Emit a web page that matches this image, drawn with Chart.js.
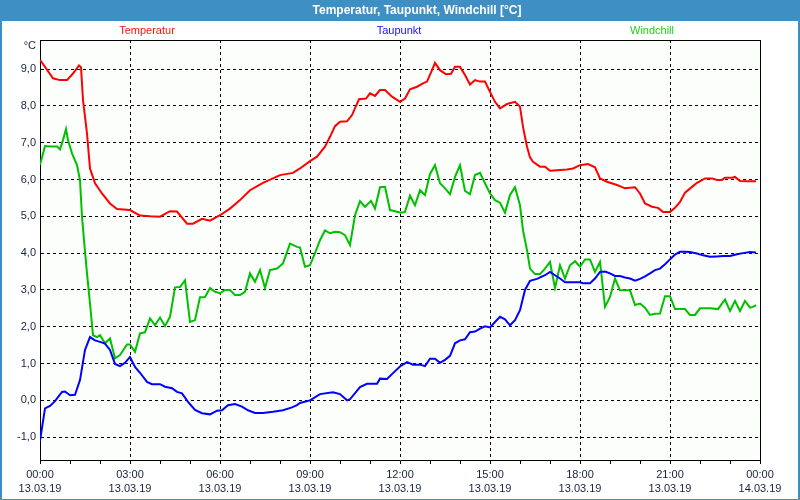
<!DOCTYPE html>
<html>
<head>
<meta charset="utf-8">
<script src="https://cdn.jsdelivr.net/npm/chart.js@4/dist/chart.umd.min.js"></script>
<style>
html,body{margin:0;padding:0;background:#fff;}
#wrap{width:800px;height:500px;position:relative;}
</style>
</head>
<body>
<div id="wrap"><canvas id="c" width="800" height="500"></canvas></div>
<script>
// ---- Data (time in minutes since 13.03.19 00:00) ----
const titleText = 'Temperatur, Taupunkt, Windchill [°C]';
const seriesNames = ['Temperatur', 'Taupunkt', 'Windchill'];
const unitLabel = '°C';

const timeLabels = ['00:00','03:00','06:00','09:00','12:00','15:00','18:00','21:00','00:00'];
const dateLabels = ['13.03.19','13.03.19','13.03.19','13.03.19','13.03.19','13.03.19','13.03.19','13.03.19','14.03.19'];
const yTickValues = [-1,0,1,2,3,4,5,6,7,8,9];

const tempTimes = [0,26,40,54,66,78,82,86,94,100,110,124,140,154,180,200,220,240,260,274,294,306,324,340,360,380,400,420,446,480,506,520,540,554,570,580,590,600,614,624,638,652,660,670,680,690,704,720,730,740,754,766,774,784,790,800,812,822,830,840,850,860,870,880,890,900,910,920,934,950,960,966,974,980,986,1000,1010,1020,1034,1054,1066,1080,1096,1110,1120,1134,1154,1170,1190,1200,1210,1224,1236,1246,1260,1270,1280,1290,1304,1314,1330,1344,1354,1364,1370,1384,1390,1400,1414,1432];
const tempValues = [9.25,8.75,8.7,8.7,8.88,9.1,9.05,8.16,7.25,6.3,5.9,5.62,5.35,5.2,5.17,5.02,5.0,4.99,5.14,5.13,4.8,4.8,4.93,4.88,5.03,5.21,5.44,5.71,5.91,6.12,6.18,6.3,6.5,6.62,6.89,7.16,7.45,7.57,7.58,7.75,8.18,8.2,8.34,8.27,8.43,8.43,8.25,8.11,8.2,8.45,8.52,8.61,8.66,8.97,9.17,8.97,8.86,8.87,9.06,9.06,8.84,8.58,8.7,8.66,8.66,8.38,8.11,7.93,8.05,8.11,7.98,7.43,6.89,6.6,6.48,6.35,6.35,6.24,6.25,6.27,6.3,6.39,6.42,6.33,6.03,5.94,5.85,5.76,5.79,5.62,5.35,5.26,5.23,5.12,5.12,5.23,5.39,5.64,5.8,5.91,6.03,6.03,5.99,5.99,6.05,6.05,6.07,5.96,5.95,5.95];

const dewTimes = [0,10,20,30,44,50,60,70,80,90,100,110,120,130,140,150,160,170,180,190,200,214,224,240,250,264,274,284,296,310,324,340,354,364,376,390,404,416,430,446,466,486,504,514,520,540,560,586,600,614,620,640,654,674,680,694,706,720,734,746,760,770,780,790,800,810,820,830,840,850,860,870,880,890,900,910,920,930,940,950,960,970,980,994,1010,1020,1030,1040,1050,1066,1080,1086,1100,1110,1120,1130,1140,1150,1160,1170,1180,1190,1200,1210,1220,1230,1240,1250,1260,1270,1280,1290,1300,1314,1326,1340,1354,1366,1380,1394,1406,1420,1432];
const dewValues = [-1.1,-0.22,-0.15,-0.02,0.23,0.24,0.14,0.15,0.55,1.37,1.72,1.63,1.59,1.54,1.37,0.99,0.93,1.02,1.18,0.91,0.75,0.5,0.44,0.44,0.37,0.33,0.23,0.19,-0.04,-0.26,-0.35,-0.38,-0.28,-0.27,-0.13,-0.1,-0.17,-0.27,-0.34,-0.34,-0.31,-0.27,-0.19,-0.13,-0.07,0.0,0.17,0.22,0.17,0.0,0.03,0.36,0.45,0.45,0.59,0.58,0.74,0.92,1.04,0.97,0.97,0.93,1.13,1.13,1.02,1.1,1.21,1.55,1.63,1.66,1.85,1.87,1.95,2.01,1.98,2.13,2.27,2.2,2.04,2.18,2.45,3.0,3.25,3.3,3.4,3.49,3.4,3.31,3.21,3.21,3.21,3.18,3.18,3.31,3.49,3.5,3.45,3.38,3.38,3.34,3.31,3.25,3.3,3.37,3.45,3.54,3.58,3.7,3.83,3.96,4.04,4.04,4.03,3.99,3.94,3.9,3.91,3.92,3.92,3.97,4.0,4.03,4.02];

const chillTimes = [0,10,20,34,40,46,52,56,64,74,80,84,88,94,100,106,114,120,130,140,150,160,174,180,190,200,210,220,230,240,250,260,270,280,290,300,310,320,330,340,350,360,370,380,390,400,410,420,430,440,450,460,474,486,500,514,520,530,540,550,560,570,580,590,600,610,620,630,640,650,662,670,680,690,700,710,722,730,740,750,760,770,780,790,800,810,820,830,840,850,860,870,880,890,900,910,920,930,940,950,960,966,974,980,990,1000,1010,1020,1030,1040,1050,1060,1070,1080,1090,1100,1110,1120,1130,1140,1150,1160,1180,1190,1200,1210,1220,1230,1240,1250,1260,1270,1290,1300,1310,1320,1340,1356,1370,1380,1390,1400,1410,1420,1426,1432];
const chillValues = [6.4,6.91,6.9,6.9,6.82,7.07,7.37,7.07,6.71,6.39,5.98,4.99,4.35,3.45,2.63,1.77,1.72,1.77,1.55,1.68,1.14,1.23,1.52,1.52,1.32,1.82,1.85,2.23,2.04,2.25,2.02,2.27,3.07,3.08,3.26,2.13,2.18,2.8,2.81,3.05,2.95,2.91,3.0,3.0,2.86,2.86,2.95,3.45,3.22,3.54,3.05,3.54,3.58,3.72,4.26,4.17,4.15,3.63,3.67,4.0,4.35,4.62,4.54,4.58,4.57,4.49,4.22,5.03,5.41,5.26,5.42,5.21,5.79,5.8,5.17,5.14,5.1,5.12,5.56,5.3,5.71,5.58,6.15,6.39,5.9,5.76,5.6,6.07,6.39,5.69,5.6,6.12,6.18,5.9,5.62,5.44,5.37,5.1,5.58,5.79,5.3,4.62,4.08,3.58,3.43,3.43,3.58,3.76,3.05,3.67,3.31,3.67,3.78,3.63,3.83,3.83,3.49,3.76,2.54,2.81,3.31,2.99,2.99,2.59,2.63,2.52,2.32,2.35,2.36,2.83,2.83,2.48,2.48,2.32,2.32,2.5,2.5,2.48,2.74,2.43,2.7,2.43,2.7,2.52,2.54,2.59];

// ---- Styles ----
const FONT = "'Liberation Sans', Arial, sans-serif";
const colors = ['#ff0000', '#0000ff', '#00c000'];
const legendColors = ['#ff1010', '#1010ff', '#22cc22'];
const textColor = '#18203c';
const barBlue = '#3d8fc4';

function toPoints(ts, vs){ return ts.map((t,i)=>({x:t, y:vs[i]})); }

const framePlugin = {
  id: 'frame',
  beforeDraw(chart){
    const ctx = chart.ctx, W = chart.width, H = chart.height;
    ctx.save();
    ctx.fillStyle = '#ffffff';
    ctx.fillRect(0,0,W,H);
    const a = chart.chartArea;
    ctx.fillStyle = '#fcfefc';
    ctx.fillRect(a.left, a.top, a.right-a.left, a.bottom-a.top);
    ctx.fillStyle = barBlue;
    ctx.fillRect(0,0,W,21);
    ctx.fillRect(0,0,2,H);
    ctx.fillRect(W-2,0,2,H);
    ctx.fillRect(0,H-1,W,1);
    ctx.fillStyle = '#ffffff';
    ctx.font = 'bold 12px ' + FONT;
    ctx.textAlign = 'center';
    ctx.textBaseline = 'middle';
    ctx.fillText(titleText, 417, 11);
    ctx.restore();
  },
  afterDraw(chart){
    const ctx = chart.ctx, a = chart.chartArea;
    ctx.save();
    ctx.strokeStyle = '#000';
    ctx.lineWidth = 1;
    ctx.beginPath();
    ctx.moveTo(a.left, a.top + 0.5);
    ctx.lineTo(a.right + 0.5, a.top + 0.5);
    ctx.lineTo(a.right + 0.5, a.bottom + 1);
    ctx.stroke();
    ctx.font = '11px ' + FONT;
    ctx.textBaseline = 'middle';
    ctx.textAlign = 'center';
    const w = a.right - a.left;
    const lx = [147, 399, 652];
    seriesNames.forEach((n,i)=>{
      ctx.fillStyle = legendColors[i];
      ctx.fillText(n, lx[i], 31);
    });
    ctx.fillStyle = textColor;
    ctx.textAlign = 'right';
    ctx.fillText(unitLabel, 36, 46);
    ctx.restore();
  }
};

new Chart(document.getElementById('c'), {
  type: 'line',
  data: {
    datasets: [
      {label: seriesNames[0], data: toPoints(tempTimes, tempValues), borderColor: colors[0]},
      {label: seriesNames[1], data: toPoints(dewTimes, dewValues), borderColor: colors[1]},
      {label: seriesNames[2], data: toPoints(chillTimes, chillValues), borderColor: colors[2]}
    ].map(d => Object.assign(d, {borderWidth: 2, pointRadius: 0, tension: 0, fill: false, borderJoinStyle: 'miter'}))
  },
  options: {
    responsive: false,
    animation: false,
    devicePixelRatio: 1,
    layout: {padding: {top: 40, right: 40, left: 0, bottom: 0}},
    plugins: {legend: {display: false}, title: {display: false}, tooltip: {enabled: false}},
    scales: {
      x: {
        type: 'linear',
        min: 0, max: 1440,
        afterBuildTicks(scale){
          const t = [];
          for (let m = 0; m <= 1440; m += 60) t.push({value: m});
          scale.ticks = t;
        },
        afterFit(scale){ scale.height = 40; },
        ticks: {
          autoSkip: false, maxRotation: 0, minRotation: 0, padding: 4,
          color: textColor,
          font: {family: FONT, size: 11, lineHeight: 1.25},
          callback(v){
            if (v % 180 !== 0) return '';
            const i = v / 180;
            return [timeLabels[i], dateLabels[i]];
          }
        },
        grid: {
          color: ctx => (ctx.tick && ctx.tick.value % 180 === 0) ? '#000' : 'rgba(0,0,0,0)',
          tickColor: '#000',
          tickLength: 4,
          lineWidth: 1,
          tickBorderDash: []
        },
        border: {display: true, color: '#000', width: 1, dash: [3,3]}
      },
      y: {
        min: -1.62, max: 9.79,
        afterBuildTicks(scale){ scale.ticks = yTickValues.map(v => ({value: v})); },
        afterFit(scale){ scale.width = 40; },
        ticks: {
          padding: 4, color: textColor,
          font: {family: FONT, size: 11},
          callback(v){ return v.toFixed(1).replace('.', ','); }
        },
        grid: {color: '#000', drawTicks: false, lineWidth: 1},
        border: {display: true, color: '#000', width: 1, dash: [3,3]}
      }
    }
  },
  plugins: [framePlugin]
});
</script>
</body>
</html>
